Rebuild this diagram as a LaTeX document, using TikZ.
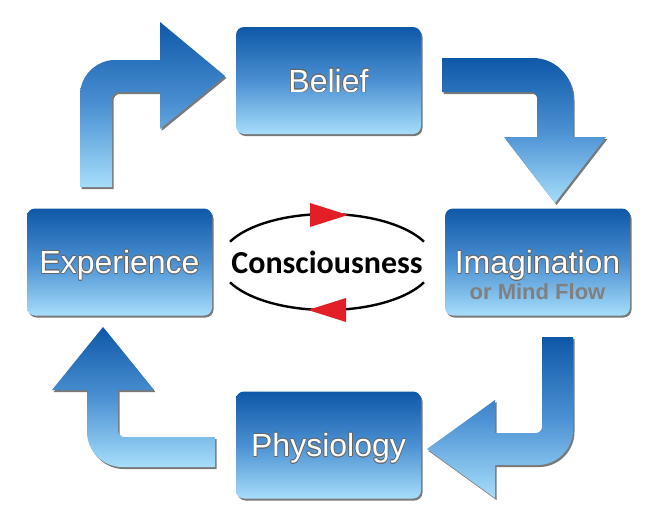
\documentclass[tikz,border=0pt]{standalone}
\usepackage{fontspec}
\setmainfont{Liberation Sans}
\newfontfamily\consfont{Carlito}
\usepackage[copies]{contour}
\usetikzlibrary{positioning,shadows}
\definecolor{cycTop}{HTML}{0F58A8}
\definecolor{cycMiddle}{HTML}{4A90D2}
\definecolor{cycBottom}{HTML}{A6DDFA}
\definecolor{cycRed}{HTML}{E41E26}
\colorlet{colShadow}{black!75}
\colorlet{colFlow}{black!50}
\contourlength{0.6pt}
\newcommand{\stagetext}[1]{\contour{black!60}{#1}}

\begin{document}
\begin{tikzpicture}[x=1pt, y=-1pt,
    stage/.style={rounded corners=8pt, top color=cycTop, bottom color=cycBottom, middle color=cycMiddle,
      minimum width=185pt, minimum height=107pt, text=white,
      font=\fontsize{32}{36}\selectfont, text height=23pt, text depth=0pt,
      drop shadow={shadow xshift=1.5pt, shadow yshift=-2pt, fill=colShadow, opacity=.7}},
    bendarrow/.style={top color=cycTop, bottom color=cycBottom, middle color=cycMiddle,
      drop shadow={shadow xshift=1.5pt, shadow yshift=-2pt, fill=colShadow, opacity=.7}},
    cycleline/.style={line width=2.4pt},
    cycletip/.style={fill=cycRed}]
    \useasboundingbox (0,0) rectangle (656,525);

    % Etapas
    \node[stage] (belief) at (328.5,80.5) {\stagetext{Belief}};
    \node[stage] (imagination) at (537.5,262) {\stagetext{Imagination}};
    \node[stage] (physiology) at (328.5,445) {\stagetext{Physiology}};
    \node[stage] (experience) at (119.5,262) {\stagetext{Experience}};
    \node[font=\bfseries\fontsize{22}{24}\selectfont, text=colFlow, anchor=base] (mindflow)
      at ([yshift=-26pt]imagination.base) {or Mind Flow};

    % Flechas (Experience -> Belief)
    \path[bendarrow] (80,187) -- (80,95) .. controls (80,76) and (96,60) .. (115,60)
      -- (160,60) -- (160,22) -- (225,76) -- (160,129) -- (160,92) -- (118,92)
      .. controls (115,92) and (112,95) .. (112,98) -- (112,187) -- cycle;
    % Belief -> Imagination
    \path[bendarrow] (442,58) -- (533,58) .. controls (555,58) and (573,76) .. (573,98)
      -- (573,137) -- (606,137) -- (555,203) -- (504,137) -- (537,137) -- (537,98)
      .. controls (537,95) and (534,92) .. (531,92) -- (442,92) -- cycle;
    % Imagination -> Physiology
    \path[bendarrow] (542,337) -- (573,337) -- (573,430) .. controls (573,449) and (557,465) .. (538,465)
      -- (495,465) -- (495,498) -- (427,449) -- (495,400) -- (495,433) -- (536,433)
      .. controls (539,433) and (542,430) .. (542,427) -- cycle;
    % Physiology -> Experience
    \path[bendarrow] (215,437) -- (124,437) .. controls (121,437) and (118,434) .. (118,431)
      -- (118,390) -- (154,390) -- (103,327) -- (52,390) -- (87,390) -- (87,432)
      .. controls (87,451) and (103,467) .. (122,467) -- (215,467) -- cycle;

    % Centro
    \coordinate (core) at (327,262);
    \node[font=\consfont\bfseries\fontsize{32}{36}\selectfont] (conscious) at (core) {Consciousness};
    \draw[cycleline] (core) ++(205:107 and 48) arc[start angle=205, end angle=335, x radius=107, y radius=48];
    \draw[cycleline] (core) ++(25:107 and 48) arc[start angle=25, end angle=155, x radius=107, y radius=48];
    \fill[cycletip] (310,203) -- (348,215) -- (310,227) -- cycle;
    \fill[cycletip] (346,298) -- (308,310) -- (346,322) -- cycle;
\end{tikzpicture}
\end{document}
